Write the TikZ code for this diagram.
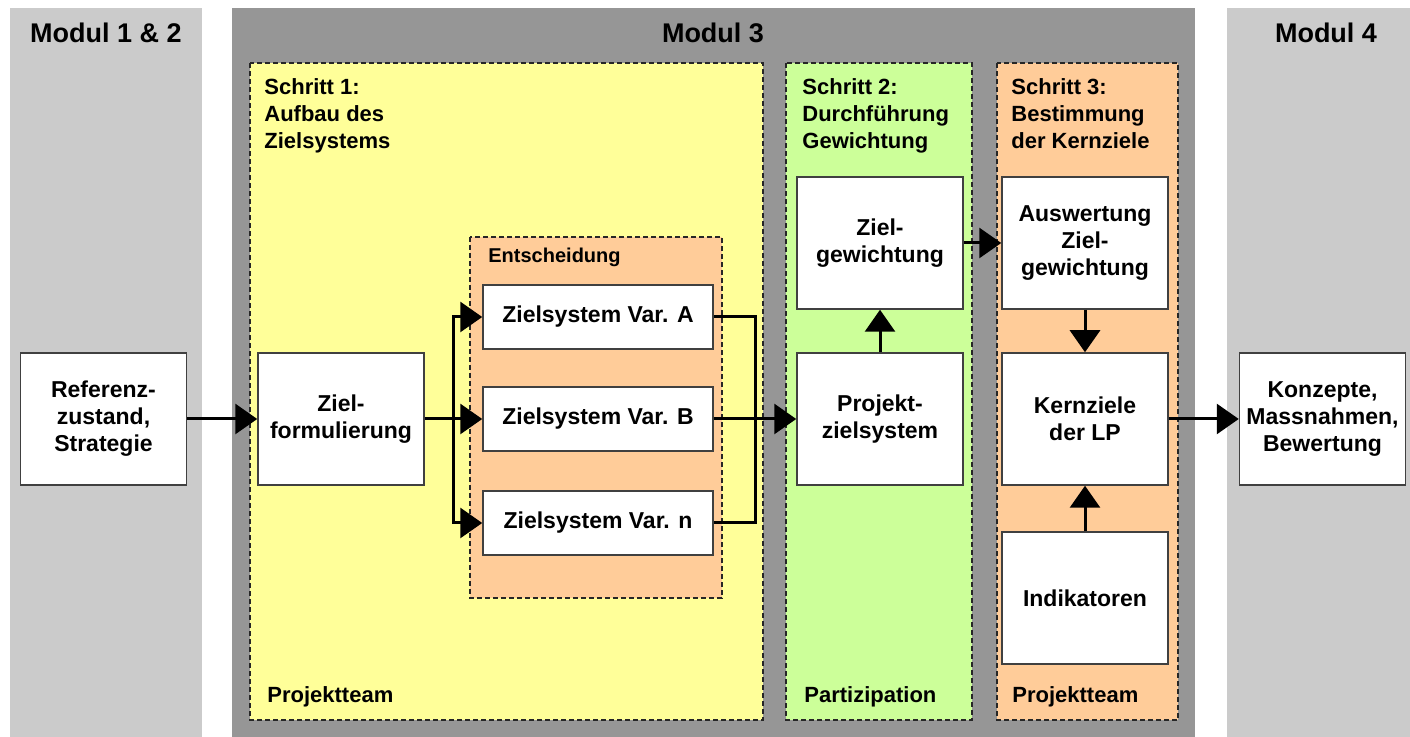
\documentclass[tikz,border=0pt]{standalone}
\usepackage{fontspec}
\setmainfont{Liberation Sans}
\usepackage{tikz}
\usepackage{xcolor}
\usetikzlibrary{arrows.meta}

\definecolor{modulgrey}{RGB}{203,203,203}
\definecolor{modulthreegrey}{RGB}{150,150,150}
\definecolor{schrittyellow}{RGB}{255,255,153}
\definecolor{schrittgreen}{RGB}{204,255,153}
\definecolor{schrittorange}{RGB}{255,204,153}

\begin{document}
\begin{tikzpicture}[x=0.5pt, y=-0.5pt,
  box/.style={draw=black!75, fill=white, line width=0.75pt, align=center, inner sep=0pt,
    font=\bfseries\fontsize{11.5}{13.5}\selectfont},
  bigbox/.style={box, minimum width=83pt, minimum height=66pt},
  varbox/.style={box, minimum width=115pt, minimum height=32pt},
  schritt/.style={draw=black!85, line width=0.75pt, dash pattern=on 2.5pt off 1.5pt},
  steptext/.style={font=\bfseries\fontsize{11}{13.5}\selectfont, align=left, inner sep=0pt},
  modultitel/.style={font=\bfseries\fontsize{13.5}{16}\selectfont, anchor=base, inner sep=0pt},
  pfeil/.style={line width=1.5pt, -{Triangle[length=11pt,width=15pt]}},
  linie/.style={line width=1.5pt}]
\useasboundingbox (0,0) rectangle (1410,737);

\fill[modulgrey] (10,8) rectangle (202,737);
\fill[modulthreegrey] (232,8) rectangle (1195,737);
\fill[modulgrey] (1227,8) rectangle (1410,737);

\filldraw[schritt, fill=schrittyellow] (250,63) rectangle (763,720);
\filldraw[schritt, fill=schrittgreen] (786,63) rectangle (972,720);
\filldraw[schritt, fill=schrittorange] (997,63) rectangle (1178,720);
\filldraw[schritt, fill=schrittorange] (470,237) rectangle (722,598);

\node[modultitel] (m12) at (106,43) {Modul 1 \& 2};
\node[modultitel] (m3) at (713,43) {Modul 3};
\node[modultitel] (m4) at (1326,43) {Modul 4};

\node[steptext, anchor=north west] (s1) at (264,78) {Schritt 1:\\Aufbau des\\Zielsystems};
\node[steptext, anchor=north west] (s2) at (802,78) {Schritt 2:\\Durchführung\\Gewichtung};
\node[steptext, anchor=north west] (s3) at (1011,78) {Schritt 3:\\Bestimmung\\der Kernziele};
\node[steptext, anchor=base west, font=\bfseries\fontsize{10}{12}\selectfont] (ent) at (488,263) {Entscheidung};

\node[steptext, anchor=base west] (t1) at (267,703) {Projektteam};
\node[steptext, anchor=base west] (t2) at (804,703) {Partizipation};
\node[steptext, anchor=base west] (t3) at (1012,703) {Projektteam};

\node[bigbox] (ref) at (103.5,419) {Referenz-\\zustand,\\Strategie};
\node[bigbox] (zform) at (341,419) {Ziel-\\formulierung};
\node[varbox] (varA) at (598,317) {Zielsystem Var. A};
\node[varbox] (varB) at (598,419) {Zielsystem Var. B};
\node[varbox] (varn) at (598,523) {Zielsystem Var. n};
\node[bigbox] (zgew) at (880,243) {Ziel-\\gewichtung};
\node[bigbox] (pzs) at (880,419) {Projekt-\\zielsystem};
\node[bigbox] (ausw) at (1085,243) {Auswertung\\Ziel-\\gewichtung};
\node[bigbox] (kern) at (1085,419) {Kernziele\\der LP};
\node[bigbox] (indi) at (1085,598) {Indikatoren};
\node[bigbox] (konz) at (1322.5,419) {Konzepte,\\Massnahmen,\\Bewertung};

\coordinate (split) at (453,419);
\coordinate (join) at (755,419);

\draw[pfeil] (ref) -- (zform);
\draw[linie] (zform.east) -- (split);
\draw[pfeil] (split) |- (varA.west);
\draw[pfeil] (split) -- (varB.west);
\draw[pfeil] (split) |- (varn.west);
\draw[linie] (varA.east) -| (join);
\draw[linie] (varn.east) -| (join);
\draw[pfeil] (varB.east) -- (pzs.west);
\draw[pfeil] (pzs) -- (zgew);
\draw[pfeil] (zgew) -- (ausw);
\draw[pfeil] (ausw) -- (kern);
\draw[pfeil] (indi) -- (kern);
\draw[pfeil] (kern) -- (konz);

\end{tikzpicture}
\end{document}
